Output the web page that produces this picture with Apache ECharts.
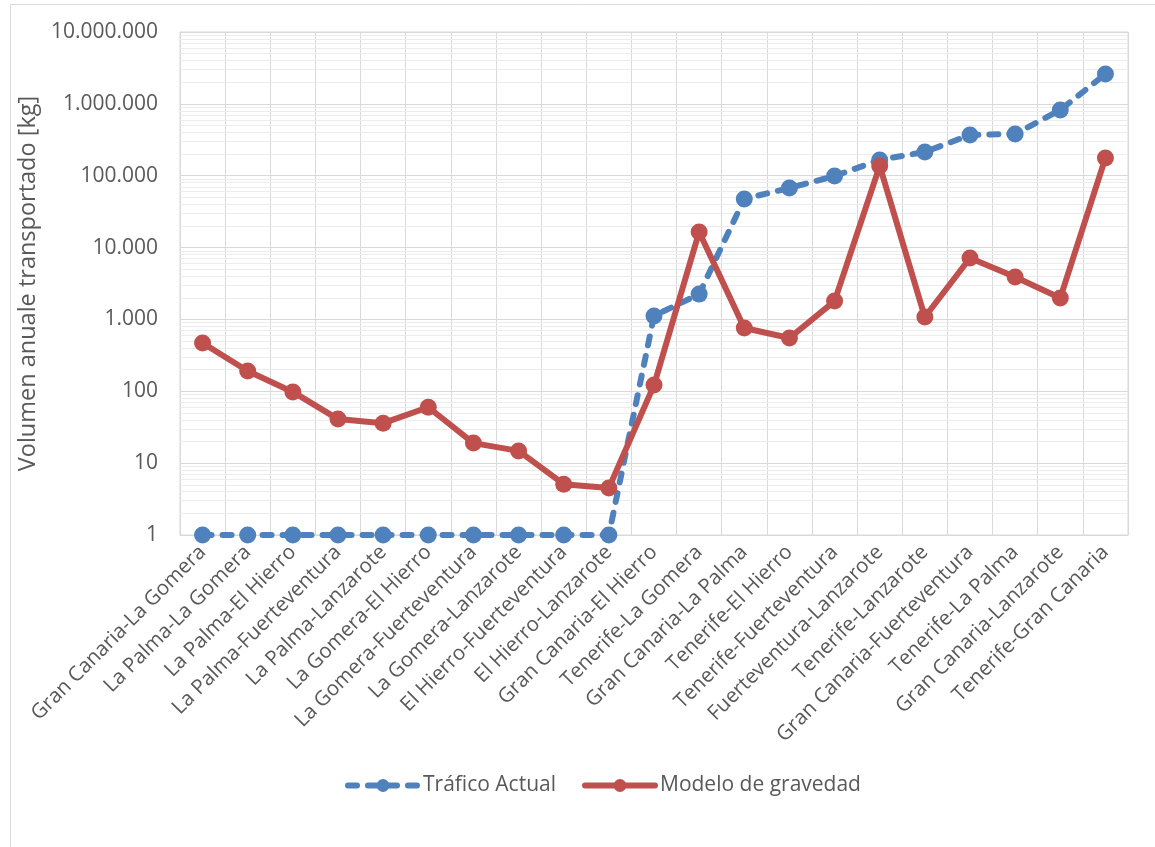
<!DOCTYPE html>
<html>
<head>
<meta charset="utf-8">
<script src="https://cdn.jsdelivr.net/npm/echarts@6/dist/echarts.min.js"></script>
<style>html,body{margin:0;padding:0;background:#fff;}#c{width:1155px;height:847px;}</style>
</head>
<body>
<div id="c"></div>
<script>
const categories = [
  'Gran Canaria-La Gomera','La Palma-La Gomera','La Palma-El Hierro','La Palma-Fuerteventura',
  'La Palma-Lanzarote','La Gomera-El Hierro','La Gomera-Fuerteventura','La Gomera-Lanzarote',
  'El Hierro-Fuerteventura','El Hierro-Lanzarote','Gran Canaria-El Hierro','Tenerife-La Gomera',
  'Gran Canaria-La Palma','Tenerife-El Hierro','Tenerife-Fuerteventura','Fuerteventura-Lanzarote',
  'Tenerife-Lanzarote','Gran Canaria-Fuerteventura','Tenerife-La Palma','Gran Canaria-Lanzarote',
  'Tenerife-Gran Canaria'
];
const traficoActual = [1,1,1,1,1,1,1,1,1,1,1120,2250,47500,67500,99000,166000,214000,369000,381000,822000,2600000];
const modeloGravedad = [470,192,98,41,36,60,19,14.8,5.1,4.5,122,16500,760,552,1800,137000,1080,7150,3900,1990,177000];
const yMin = 1, yMax = 10000000;
// minor log gridline values (2..9 × each decade)
const minorGridValues = [];
for (let d = 1; d < yMax; d *= 10) { for (let m = 2; m <= 9; m++) minorGridValues.push(m * d); }

function fmt(v){ return String(Math.round(v)).replace(/\B(?=(\d{3})+(?!\d))/g,'.'); }

const FONT = 'Open Sans';
const chart = echarts.init(document.getElementById('c'), null, {renderer:'canvas'});
chart.setOption({
  animation: false,
  backgroundColor: '#fff',
  textStyle: {fontFamily: FONT},
  graphic: [{type:'rect', shape:{x:10.5,y:4.5,width:1300,height:1000}, style:{fill:'none', stroke:'#d9d9d9', lineWidth:1}, silent:true, z:-10}],
  grid: {left:180, right:27, top:32, bottom:312, show:true, borderColor:'#d9d9d9', borderWidth:1},
  legend: {
    data: ['Tráfico Actual','Modelo de gravedad'],
    bottom: 46, left: 340,
    itemWidth: 70, itemHeight: 16, itemGap: 26,
    lineStyle: {width: 'inherit'},
    textStyle: {fontFamily: FONT, fontSize: 21, color:'#595959'}
  },
  xAxis: {
    type:'category', data: categories, boundaryGap: true,
    axisLine:{show:true, lineStyle:{color:'#d9d9d9'}},
    axisTick:{show:false},
    splitLine:{show:true, lineStyle:{color:'#d9d9d9', width:1}},
    axisLabel:{interval:0, rotate:45, margin:14, fontFamily:FONT, fontSize:20.5, color:'#595959'}
  },
  yAxis: {
    type:'log', logBase:10, min:yMin, max:yMax,
    name:'Volumen anuale transportado [kg]', nameLocation:'middle', nameGap:131, nameRotate:90,
    nameTextStyle:{fontFamily:FONT, fontSize:23.5, color:'#595959'},
    axisLine:{show:false}, axisTick:{show:false},
    splitLine:{show:true, lineStyle:{color:'#d9d9d9', width:1}},
    axisLabel:{formatter: fmt, margin:22, fontFamily:FONT, fontSize:21, color:'#595959'}
  },
  series: [
    {
      type:'line', data: [], silent:true, z:0,
      markLine:{silent:true, z:0, zlevel:0, symbol:'none', label:{show:false},
        lineStyle:{color:'#ececec', width:1, type:'solid'},
        emphasis:{disabled:true},
        data: minorGridValues.map(v => ({yAxis:v}))}
    },
    {
      name:'Tráfico Actual', type:'line', data: traficoActual, z:3,
      symbol:'circle', symbolSize:17,
      itemStyle:{color:'#4f81bd'},
      lineStyle:{color:'#4f81bd', width:6, type:[9,11], cap:'round'}
    },
    {
      name:'Modelo de gravedad', type:'line', data: modeloGravedad, z:4,
      symbol:'circle', symbolSize:17,
      itemStyle:{color:'#c0504d'},
      lineStyle:{color:'#c0504d', width:6, type:'solid', cap:'round', join:'round'}
    }
  ]
});
</script>
</body>
</html>
